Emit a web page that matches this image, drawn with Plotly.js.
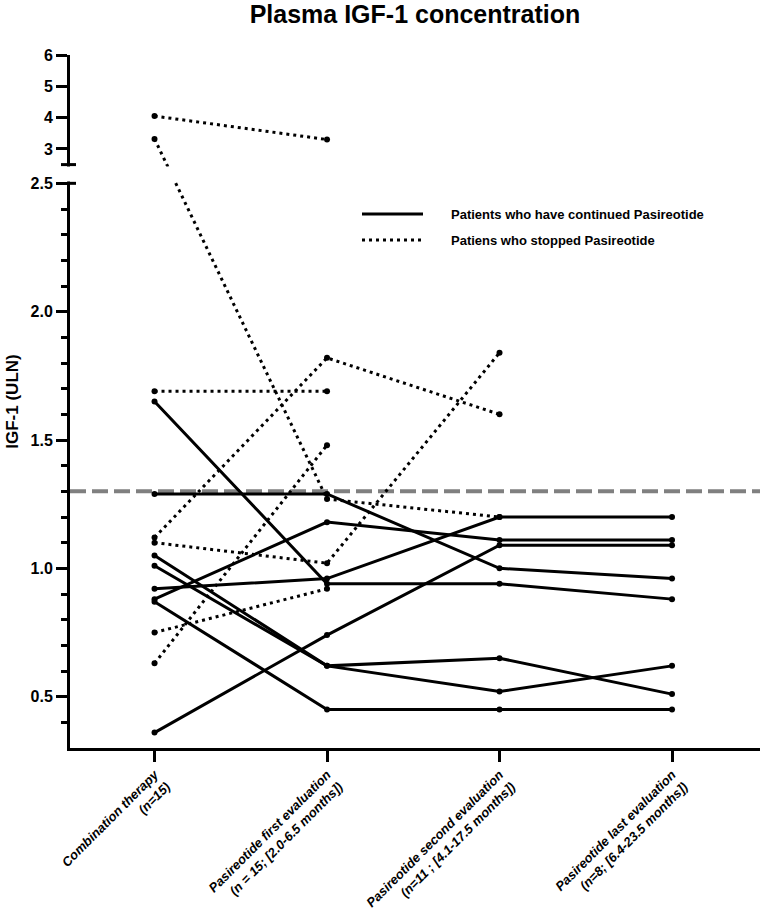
<!DOCTYPE html>
<html><head><meta charset="utf-8">
<script src="https://cdn.plot.ly/plotly-3.0.1.min.js"></script>
<style>html,body{margin:0;padding:0;background:#fff}#chart{width:762px;height:911px}</style>
</head><body><div id="chart"></div>
<script>
// ---------- data ----------
const categories = [
  "Combination therapy<br>(n=15)",
  "Pasireotide first evaluation<br>(n = 15; [2.0-6.5 months])",
  "Pasireotide second evaluation<br>(n=11 ; [4.1-17.5 months])",
  "Pasireotide last evaluation<br>(n=8; [6.4-23.5 months])"
];
// patients who continued pasireotide (solid lines), IGF-1 in ULN per visit
const continuedA = [1.65, 0.94, 0.94, 0.88];
const continuedB = [1.29, 1.29, 1.00, 0.96];
const continuedC = [1.05, 0.62, 0.65, 0.51];
const continuedD = [1.01, 0.62, 0.52, 0.62];
const continuedE = [0.92, 0.96, 1.20, 1.20];
const continuedF = [0.88, 1.18, 1.11, 1.11];
const continuedG = [0.87, 0.45, 0.45, 0.45];
const continuedH = [0.36, 0.74, 1.09, 1.09];
// patients who stopped pasireotide (dotted lines)
const stoppedA = [4.05, 3.30];
const stoppedB = [3.32, 1.27, 1.20];
const stoppedC = [1.69, 1.69];
const stoppedD = [1.10, 1.02, 1.84];
const stoppedE = [1.12, 1.82, 1.60];
const stoppedF = [0.75, 0.92];
const stoppedG = [0.63, 1.48];

const yTickValues = [0.5, 1.0, 1.5, 2.0, 2.5, 3, 4, 5, 6];
const yTickLabels = ["0.5", "1.0", "1.5", "2.0", "2.5", "3", "4", "5", "6"];
const yMinorValues = [0.4, 0.6, 0.7, 0.8, 0.9, 1.1, 1.2, 1.3, 1.4, 1.6, 1.7, 1.8, 1.9, 2.1, 2.2, 2.3, 2.4];
const ulnThreshold = 1.3;
const legendLabels = ["Patients who have continued Pasireotide", "Patiens who stopped Pasireotide"];
const chartTitle = "Plasma IGF-1 concentration";
const yTitle = "IGF-1 (ULN)";

// ---------- broken-axis transform ----------
const BREAK = 2.5, GAP = 0.073, UPPER_SCALE = 0.122;
function toAxis(v) { return v <= BREAK ? v : BREAK + GAP + (v - BREAK) * UPPER_SCALE; }

const continued = [continuedA, continuedB, continuedC, continuedD, continuedE, continuedF, continuedG, continuedH];
const stopped = [stoppedA, stoppedB, stoppedC, stoppedD, stoppedE, stoppedF, stoppedG];

const FONT = "Liberation Sans, Arial, Helvetica, sans-serif";
const traces = [];
function addTrace(vals, dotted, group) {
  traces.push({
    type: "scatter", mode: "lines+markers",
    x: categories.slice(0, vals.length),
    y: vals.map(toAxis),
    customdata: vals,
    hovertemplate: "%{customdata:.2f}<extra></extra>",
    line: { color: "#000", width: 3, dash: dotted ? "3px,4px" : "solid" },
    marker: { color: "#000", size: 6, symbol: "circle" },
    showlegend: false, name: group
  });
}
continued.forEach(v => addTrace(v, false, legendLabels[0]));
stopped.forEach(v => addTrace(v, true, legendLabels[1]));

// ---------- layout ----------
const W = 762, H = 911;
const ML = 70, MR = 2, MT = 55, MB = 163;
const PW = W - ML - MR;
const px = p => (p - ML) / PW;   // pixel x -> paper x

const shapes = [
  { type: "line", xref: "paper", yref: "y", x0: 0, x1: 1, y0: toAxis(ulnThreshold), y1: toAxis(ulnThreshold),
    line: { color: "#808080", width: 4, dash: "16px,6px" }, layer: "below" },
  // white band for axis break
  { type: "rect", xref: "paper", yref: "y", x0: px(ML - 8), x1: 1.01, y0: BREAK + 0.007, y1: BREAK + GAP - 0.007,
    fillcolor: "#fff", line: { width: 0 }, layer: "above" },
  // caps at the break
  { type: "line", xref: "paper", yref: "y", x0: px(ML - 9), x1: px(ML + 6), y0: BREAK + GAP, y1: BREAK + GAP,
    line: { color: "#000", width: 3 }, layer: "above" },
  { type: "line", xref: "paper", yref: "y", x0: px(ML - 2), x1: px(ML + 6), y0: BREAK, y1: BREAK,
    line: { color: "#000", width: 3 }, layer: "above" },
  // legend samples
  { type: "line", xref: "paper", yref: "paper", x0: px(362), x1: px(423), y0: (H - MB - 214) / (H - MT - MB), y1: (H - MB - 214) / (H - MT - MB),
    line: { color: "#000", width: 3 } },
  { type: "line", xref: "paper", yref: "paper", x0: px(362), x1: px(423), y0: (H - MB - 240) / (H - MT - MB), y1: (H - MB - 240) / (H - MT - MB),
    line: { color: "#000", width: 3, dash: "3px,4px" } }
];

const annotations = legendLabels.map((t, i) => ({
  text: t, xref: "paper", yref: "paper", x: px(449), y: (H - MB - (i === 0 ? 214 : 240)) / (H - MT - MB),
  xanchor: "left", yanchor: "middle", showarrow: false,
  font: { family: FONT, size: 13, color: "#000", weight: "bold" }
}));

const layout = {
  width: W, height: H,
  margin: { l: ML, r: MR, t: MT, b: MB, pad: 0 },
  paper_bgcolor: "#fff", plot_bgcolor: "#fff",
  showlegend: false,
  title: { text: chartTitle, x: 0.5, xref: "paper", y: 1 - 14 / H, yref: "container", yanchor: "middle",
    font: { family: FONT, size: 25, color: "#000", weight: "bold" } },
  xaxis: {
    type: "category", categoryorder: "array", categoryarray: categories,
    range: [-0.49, 3.51], showgrid: false, zeroline: false,
    showline: true, linecolor: "#000", linewidth: 3,
    ticks: "outside", ticklen: 11, tickwidth: 3, tickcolor: "#000",
    tickangle: -45,
    tickfont: { family: FONT, size: 13, color: "#000", weight: "bold", style: "italic" },
    fixedrange: true
  },
  yaxis: {
    range: [0.3, 3.0], showgrid: false, zeroline: false,
    showline: true, linecolor: "#000", linewidth: 3,
    tickmode: "array", tickvals: yTickValues.map(toAxis), ticktext: yTickLabels,
    ticks: "outside", ticklen: 11, tickwidth: 3, tickcolor: "#000",
    tickfont: { family: FONT, size: 16, color: "#000", weight: "bold" },
    minor: { tickmode: "array", tickvals: yMinorValues.map(toAxis), ticks: "outside", ticklen: 6, tickwidth: 3, tickcolor: "#000", showgrid: false },
    title: { text: yTitle, font: { family: FONT, size: 17, color: "#000", weight: "bold" }, standoff: 8 },
    fixedrange: true
  },
  shapes: shapes,
  annotations: annotations
};

Plotly.newPlot("chart", traces, layout, { displayModeBar: false, staticPlot: false });
</script>
</body></html>
